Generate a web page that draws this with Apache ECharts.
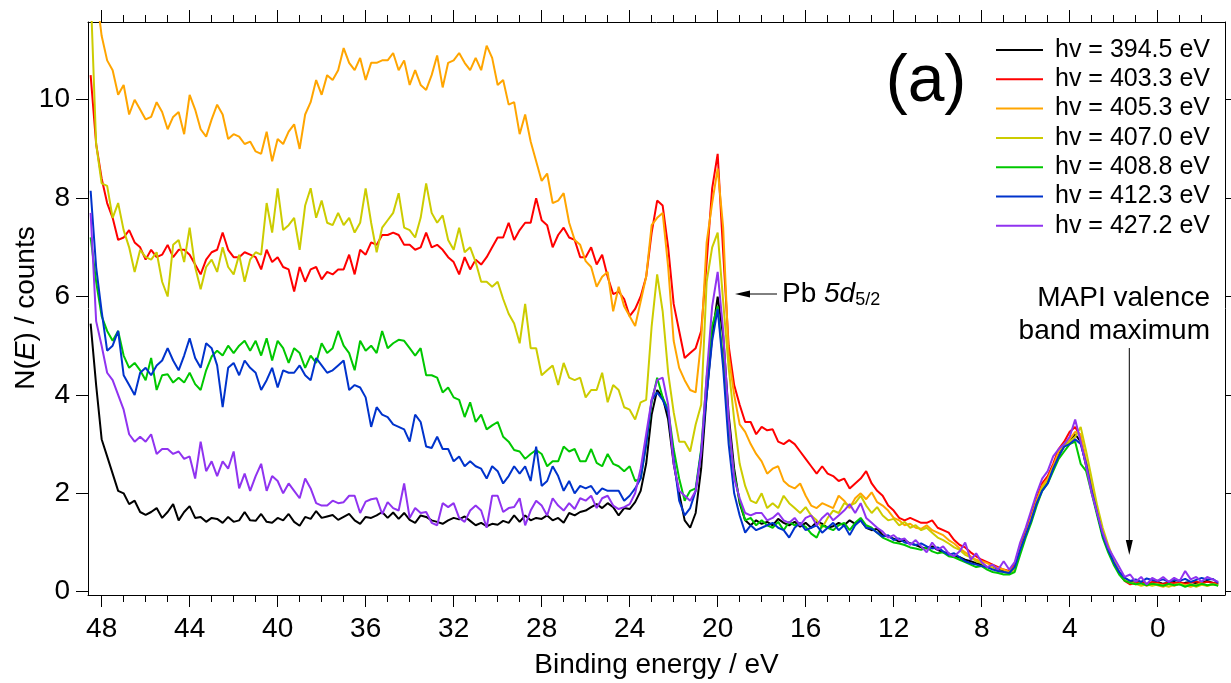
<!DOCTYPE html>
<html><head><meta charset="utf-8">
<script src="https://cdn.jsdelivr.net/npm/echarts@6/dist/echarts.min.js"></script>
<style>html,body{margin:0;padding:0;background:#fff}#c{width:1231px;height:683px}</style>
</head><body><div id="c"></div>
<script>
// Binding energy grid (eV)
const energies = [
48.5,48.25,48,47.75,47.5,47.25,47,46.75,46.5,46.25,46,45.75,45.5,45.25,45,44.75,44.5,44.25,44,43.75,
43.5,43.25,43,42.75,42.5,42.25,42,41.75,41.5,41.25,41,40.75,40.5,40.25,40,
39.75,39.5,39.25,39,38.75,38.5,38.25,38,37.75,37.5,37.25,37,36.75,36.5,36.25,36,35.75,35.5,35.25,35,
34.75,34.5,34.25,34,33.75,33.5,33.25,33,32.75,32.5,32.25,32,31.75,31.5,31.25,
31,30.75,30.5,30.25,30,29.75,29.5,29.25,29,28.75,28.5,28.25,28,27.75,27.5,27.25,27,26.75,26.5,26.25,
26,25.75,25.5,25.25,25,24.75,24.5,24.25,24,23.75,23.5,23.25,23,
22.75,22.5,22.25,22,21.75,21.5,21.25,21,20.75,20.5,20.25,20,19.75,19.5,19.25,19,18.75,18.5,18.25,18,
17.75,17.5,17.25,17,16.75,16.5,16.25,16,15.75,15.5,15.25,15,14.75,14.5,14.25,14,
13.75,13.5,13.25,13,12.75,12.5,12.25,12,11.75,11.5,11.25,11,10.75,10.5,10.25,10,9.75,9.5,9.25,9,
8.75,8.5,8.25,8,7.75,7.5,7.25,7,
6.75,6.5,6.25,6,5.75,5.5,5.25,5,4.75,4.5,4.25,4,3.75,3.5,3.25,3,2.75,2.5,2.25,2,
1.75,1.5,1.25,1,0.75,0.5,0.25,0,-0.25,-0.5,-0.75,-1,-1.25,-1.5,-1.75,-2,-2.25,-2.5,-2.75
];

const hv394 = [
5.45,4.2,3.1,2.75,2.4,2.05,2.0,1.78,1.85,1.62,1.56,1.62,1.7,1.5,1.62,1.78,1.45,1.62,1.74,1.5,
1.52,1.42,1.5,1.48,1.4,1.52,1.42,1.45,1.62,1.45,1.44,1.58,1.42,1.4,1.5,
1.45,1.58,1.42,1.34,1.52,1.48,1.64,1.5,1.53,1.56,1.46,1.52,1.58,1.45,1.38,1.52,1.5,1.55,1.62,1.5,
1.61,1.48,1.6,1.46,1.4,1.55,1.52,1.45,1.42,1.38,1.45,1.5,1.47,1.53,1.44,
1.35,1.4,1.33,1.38,1.36,1.44,1.4,1.55,1.42,1.55,1.45,1.5,1.48,1.55,1.45,1.5,1.4,1.6,1.55,1.62,
1.65,1.72,1.78,1.7,1.8,1.72,1.55,1.7,1.68,1.82,2.05,2.6,3.6,
4.1,3.95,3.5,2.6,2.0,1.45,1.3,1.6,2.5,4.0,5.2,6.0,5.2,3.6,2.5,1.8,1.45,1.35,1.45,1.38,
1.42,1.35,1.48,1.4,1.35,1.42,1.32,1.4,1.3,1.42,1.38,1.3,1.33,1.4,1.35,1.45,
1.38,1.45,1.3,1.25,1.28,1.15,1.12,1.08,1.02,1.05,0.98,0.95,0.9,0.88,0.92,0.85,0.8,0.78,0.72,0.7,
0.65,0.62,0.58,0.55,0.5,0.48,0.45,0.42,
0.38,0.5,0.9,1.2,1.5,1.85,2.1,2.25,2.5,2.8,2.95,3.05,3.2,3.05,2.55,2.05,1.6,1.15,0.85,0.6,
0.4,0.28,0.2,0.18,0.2,0.15,0.18,0.2,0.16,0.18,0.2,0.15,0.18,0.2,0.17,0.19,0.22,0.18,0.15
];

const hv403 = [
10.5,9.1,8.4,7.9,7.6,7.15,7.2,7.35,7.1,7.0,6.75,6.95,6.8,6.85,7.05,6.8,6.95,6.95,6.85,6.65,
6.45,6.75,6.9,6.95,7.3,6.95,6.8,6.8,6.9,6.85,6.8,6.55,6.95,6.7,6.8,
6.6,6.55,6.1,6.6,6.3,6.55,6.6,6.35,6.5,6.45,6.55,6.55,6.85,6.45,6.95,6.85,7.1,7.05,7.25,7.25,
7.3,7.25,7.05,7.05,6.95,7.0,7.3,7.0,7.05,6.95,6.8,6.7,6.45,6.8,6.55,
6.75,6.65,6.8,7.0,7.2,7.2,7.5,7.15,7.35,7.5,7.5,8.0,7.55,7.45,7.0,7.25,7.4,7.2,7.15,6.8,
6.8,7.0,6.65,6.85,6.4,6.05,6.1,5.95,5.6,5.75,6.0,6.4,7.3,
7.95,7.85,7.0,5.85,5.3,4.75,4.85,4.95,5.3,6.7,8.2,8.9,6.9,5.0,4.2,3.8,3.45,3.45,3.2,3.35,
3.28,3.3,3.05,3.0,3.08,3.0,2.85,2.7,2.55,2.4,2.55,2.4,2.35,2.25,2.3,2.1,
2.2,2.3,2.45,2.2,2.05,1.95,1.75,1.65,1.5,1.45,1.5,1.45,1.4,1.4,1.45,1.3,1.25,1.2,1.05,0.95,
0.9,0.8,0.72,0.65,0.6,0.55,0.5,0.45,
0.42,0.55,0.95,1.2,1.55,1.9,2.2,2.35,2.6,2.9,3.05,3.25,3.35,3.15,2.6,2.1,1.65,1.2,0.88,0.62,
0.38,0.22,0.15,0.17,0.2,0.16,0.2,0.18,0.15,0.2,0.17,0.2,0.16,0.18,0.21,0.17,0.2,0.18,0.16
];

const hv405 = [
13.0,12.2,11.3,10.8,10.6,10.1,10.3,9.7,10.0,9.8,9.6,9.65,9.95,9.75,9.4,9.65,9.75,9.3,10.1,9.8,
9.4,9.25,9.6,9.9,9.7,9.2,9.3,9.25,9.1,9.15,8.95,8.9,9.35,8.75,9.2,
9.1,9.35,9.5,9.0,9.7,9.95,10.4,10.1,10.5,10.4,10.6,11.05,10.75,10.6,10.85,10.4,10.75,10.75,10.8,10.8,
10.95,10.6,10.8,10.3,10.6,10.3,10.2,10.5,10.9,10.25,10.75,10.8,10.95,10.75,10.6,
10.85,10.6,11.1,10.85,10.3,10.4,9.9,9.95,9.3,9.7,9.15,8.75,8.35,8.5,7.9,7.95,8.1,7.5,7.15,7.05,
6.72,6.6,6.2,6.4,6.5,5.7,6.2,5.8,5.6,5.4,5.9,6.4,7.45,
7.6,7.7,6.6,5.1,4.55,4.3,4.1,4.05,5.1,7.1,7.9,8.6,7.4,4.8,4.0,3.4,3.25,3.0,2.8,2.65,
2.4,2.5,2.55,2.25,2.15,2.1,2.2,1.95,1.75,1.7,1.8,1.75,1.7,1.95,1.85,1.7,
1.9,2.0,1.88,2.02,1.82,1.75,1.65,1.5,1.45,1.35,1.38,1.3,1.28,1.35,1.25,1.2,1.15,1.05,0.98,0.88,
0.8,0.72,0.65,0.62,0.58,0.52,0.48,0.45,
0.4,0.5,0.88,1.15,1.5,1.85,2.15,2.3,2.55,2.85,3.0,3.1,3.25,3.2,2.65,2.15,1.65,1.2,0.88,0.62,
0.4,0.25,0.18,0.15,0.17,0.12,0.16,0.13,0.1,0.15,0.12,0.16,0.13,0.1,0.14,0.17,0.12,0.15,0.13
];

const hv407 = [
12.2,9.1,8.3,8.25,7.6,7.9,7.35,7.0,6.5,6.95,6.8,6.75,6.9,6.3,6.0,7.05,7.15,6.7,7.4,6.6,
6.15,6.6,6.75,6.5,7.0,6.6,6.45,6.85,6.3,6.75,6.9,6.85,7.9,7.3,8.2,
7.35,7.45,7.6,6.95,7.85,8.2,7.6,7.95,7.5,7.45,7.7,7.45,7.6,7.3,7.5,8.2,7.5,6.9,7.4,7.55,
7.7,8.1,7.4,7.35,7.2,7.6,8.3,7.7,7.5,7.65,7.15,6.95,7.4,6.9,7.0,
6.7,6.3,6.3,6.2,6.3,5.95,5.65,5.45,5.05,5.85,4.95,4.95,4.4,4.5,4.6,4.2,4.65,4.35,4.3,4.35,
3.95,4.1,4.1,4.45,3.85,4.2,4.1,3.75,3.7,3.5,3.85,3.9,5.4,
6.45,5.7,4.45,3.65,3.05,3.05,2.85,3.4,3.8,6.3,7.0,7.3,5.9,4.55,3.5,2.6,2.15,1.85,1.8,2.0,
1.7,1.8,1.7,1.95,1.8,1.7,1.6,1.72,1.55,1.45,1.3,1.5,1.65,1.6,1.8,1.75,
1.8,1.95,1.75,1.6,1.72,1.55,1.45,1.48,1.35,1.42,1.3,1.35,1.25,1.3,1.2,1.1,1.05,0.98,0.9,0.85,
0.75,0.7,0.62,0.58,0.5,0.48,0.42,0.4,
0.38,0.45,0.8,1.15,1.45,1.8,2.1,2.25,2.5,2.75,2.95,3.05,3.15,3.35,2.85,2.3,1.75,1.3,0.95,0.65,
0.4,0.25,0.18,0.16,0.12,0.15,0.12,0.15,0.13,0.1,0.14,0.16,0.12,0.15,0.1,0.14,0.12,0.15,0.13
];

const hv408 = [
7.2,6.3,5.6,5.3,5.1,5.3,4.8,4.55,4.65,4.5,4.3,4.75,4.1,4.4,4.42,4.25,4.35,4.25,4.45,4.22,
4.1,4.5,4.78,4.9,4.8,5.0,4.85,5.0,5.1,4.9,5.1,4.8,5.15,4.7,5.1,
4.95,4.65,4.95,4.85,4.55,4.8,4.65,5.05,4.85,4.95,5.3,5.0,4.85,4.5,5.1,4.9,5.0,4.85,5.3,4.95,
5.05,5.12,5.1,4.95,4.8,4.95,4.4,4.4,4.35,4.05,4.15,3.95,3.9,3.55,3.85,
3.45,3.6,3.3,3.38,3.45,3.15,3.05,2.88,2.85,2.7,2.8,2.88,2.8,2.55,2.65,2.65,2.95,2.85,2.9,2.65,
2.65,2.9,2.62,2.55,2.8,2.6,2.55,2.45,2.55,2.25,2.3,3.0,3.85,
4.35,3.95,3.7,2.9,2.3,1.85,2.05,2.1,2.9,4.35,5.4,5.8,4.7,3.3,2.4,1.85,1.45,1.5,1.35,1.45,
1.35,1.3,1.42,1.25,1.42,1.35,1.38,1.32,1.18,1.1,1.35,1.3,1.25,1.35,1.4,1.25,
1.4,1.5,1.35,1.3,1.2,1.1,1.05,1.0,0.98,0.95,0.9,0.88,0.85,0.9,0.82,0.78,0.8,0.72,0.7,0.65,
0.6,0.55,0.5,0.52,0.45,0.4,0.38,0.35,
0.35,0.4,0.75,1.1,1.4,1.75,2.05,2.2,2.45,2.7,2.85,3.0,3.05,2.6,2.45,2.0,1.55,1.1,0.8,0.55,
0.35,0.22,0.18,0.15,0.17,0.13,0.16,0.14,0.12,0.16,0.13,0.15,0.1,0.14,0.12,0.16,0.13,0.15,0.12
];

const hv412 = [
8.15,6.6,5.7,4.9,5.0,5.3,4.4,4.2,4.0,4.45,4.55,4.4,4.6,4.7,4.95,4.7,4.5,4.8,5.15,4.75,
4.55,5.05,4.95,4.6,3.75,4.55,4.65,4.4,4.7,4.55,4.45,4.1,4.3,4.55,4.15,
4.5,4.45,4.45,4.6,4.4,4.3,4.75,4.6,4.45,4.5,4.6,4.7,4.1,4.2,4.15,3.95,3.35,3.75,3.6,3.55,
3.4,3.35,3.3,3.05,3.6,3.45,2.95,2.92,3.15,2.9,2.9,2.65,2.75,2.55,2.65,
2.55,2.5,2.3,2.55,2.45,2.2,2.35,2.55,2.4,2.55,2.25,2.95,2.15,2.25,2.55,2.35,2.05,2.25,2.0,2.15,
2.1,2.15,1.98,2.1,2.05,2.05,2.05,1.85,1.95,2.1,2.3,3.0,3.9,
4.05,3.9,3.65,2.7,1.85,1.55,1.7,2.05,2.85,4.0,5.1,5.75,4.55,3.0,2.0,1.55,1.2,1.35,1.25,1.3,
1.35,1.4,1.3,1.25,1.1,1.3,1.4,1.25,1.3,1.35,1.2,1.3,1.4,1.25,1.35,1.15,
1.35,1.45,1.3,1.28,1.2,1.12,1.15,1.05,1.08,1.0,0.98,0.95,0.98,0.92,0.88,0.9,0.82,0.75,0.78,0.7,
0.62,0.58,0.55,0.52,0.5,0.45,0.42,0.4,
0.38,0.5,0.85,1.15,1.45,1.8,2.05,2.2,2.5,2.75,2.95,3.0,3.1,3.0,2.6,2.05,1.6,1.15,0.85,0.6,
0.4,0.28,0.22,0.25,0.2,0.27,0.24,0.22,0.25,0.2,0.24,0.22,0.26,0.2,0.24,0.28,0.25,0.26,0.18
];

const hv427 = [
7.7,5.5,5.0,4.45,4.3,4.0,3.7,3.2,3.05,3.15,3.05,3.2,2.8,2.9,2.9,2.8,2.85,2.7,2.75,2.3,
3.05,2.45,2.65,2.35,2.65,2.5,2.85,2.1,2.4,2.05,2.35,2.6,2.05,2.35,2.25,
2.0,2.2,2.05,1.9,2.3,2.1,1.8,1.75,1.75,1.85,1.8,1.82,1.95,1.95,1.6,1.83,1.88,1.9,1.58,1.82,
1.7,1.65,2.2,1.5,1.7,1.6,1.62,1.4,1.35,1.8,1.72,1.8,1.5,1.42,1.65,
1.75,1.65,1.3,1.95,1.95,1.62,1.7,1.72,1.9,1.35,1.65,1.85,1.75,1.55,1.9,1.75,1.65,1.8,1.68,1.9,
1.85,1.95,1.7,1.9,1.95,1.75,1.68,1.72,1.78,2.0,2.5,3.2,3.9,
4.3,4.35,3.8,2.6,2.05,1.95,1.85,2.05,2.8,4.4,5.8,6.5,5.3,3.5,2.3,1.9,1.6,1.55,1.6,1.6,
1.45,1.5,1.6,1.45,1.4,1.5,1.35,1.5,1.55,1.35,1.5,1.6,1.45,1.55,1.65,1.78,
1.6,1.8,1.5,1.4,1.3,1.22,1.1,1.15,1.05,1.08,0.95,1.05,0.92,0.8,1.0,0.85,0.92,0.78,0.72,0.82,
1.0,0.65,0.78,0.6,0.5,0.55,0.45,0.62,
0.45,0.6,1.0,1.3,1.65,2.0,2.3,2.45,2.75,2.9,3.0,3.15,3.5,3.05,2.55,2.0,1.6,1.2,0.9,0.7,
0.5,0.3,0.35,0.2,0.3,0.15,0.28,0.22,0.3,0.2,0.28,0.22,0.42,0.25,0.3,0.2,0.3,0.25,0.2
];

const seriesNames = ['hv = 394.5 eV','hv = 403.3 eV','hv = 405.3 eV','hv = 407.0 eV','hv = 408.8 eV','hv = 412.3 eV','hv = 427.2 eV'];
const seriesColors = ['#000000','#ff0000','#ffa500','#cccc00','#00c800','#0033cc','#9033f0'];
const seriesValues = [hv394, hv403, hv405, hv407, hv408, hv412, hv427];

const xMajorTicks = [48,44,40,36,32,28,24,20,16,12,8,4,0];
const xMinorTicks = [48,47,46,45,44,43,42,41,40,39,38,37,36,35,34,33,32,31,30,29,28,27,26,25,24,23,22,21,20,19,18,17,16,15,14,13,12,11,10,9,8,7,6,5,4,3,2,1,0,-1,-2];
const yTicks = [0,2,4,6,8,10];

const FONT = '"Liberation Sans", Arial, Helvetica, sans-serif';
const axisLineStyle = {color:'#000', width:1};

const chart = echarts.init(document.getElementById('c'), null, {renderer:'canvas'});

function xAx(pos, ticks, len, showLine, showLabel){
  return {
    type:'value', inverse:true, min:-3.06, max:48.62, position:pos,
    axisLine:{show:showLine, onZero:false, lineStyle:axisLineStyle},
    axisTick:{show:true, customValues:ticks, length:len, lineStyle:axisLineStyle},
    axisLabel:{show:showLabel, customValues:xMajorTicks, fontSize:28, color:'#000', fontFamily:FONT, margin:20},
    splitLine:{show:false}
  };
}
function yAx(pos, showLabel){
  return {
    type:'value', min:-0.067, max:11.58, position:pos,
    axisLine:{show:true, onZero:false, lineStyle:axisLineStyle},
    axisTick:{show:true, customValues:yTicks, length:12, lineStyle:axisLineStyle},
    axisLabel:{show:showLabel, customValues:yTicks, fontSize:28, color:'#000', fontFamily:FONT, margin:18},
    splitLine:{show:false}
  };
}

const option = {
  animation:false,
  backgroundColor:'#fff',
  grid:{left:88, right:6, top:22, bottom:88, containLabel:false, outerBoundsMode:'none'},
  xAxis:[
    xAx('bottom', xMajorTicks, 12, true, true),
    xAx('bottom', xMinorTicks, 7, false, false),
    xAx('top', xMajorTicks, 12, true, false),
    xAx('top', xMinorTicks, 7, false, false)
  ],
  yAxis:[ yAx('left', true), yAx('right', false) ],
  legend:{
    show:true, orient:'vertical', left:996, top:35.35, padding:0, itemGap:0,
    itemWidth:47, itemHeight:2, icon:'rect', selectedMode:false,
    textStyle:{fontSize:25, fontFamily:FONT, color:'#000', lineHeight:29.3, padding:[0,0,0,7]},
    data:seriesNames
  },
  series: seriesValues.map((vals,k)=>({
    type:'line', name:seriesNames[k], xAxisIndex:0, yAxisIndex:0,
    data: energies.map((e,i)=>[e, vals[i]]),
    showSymbol:false, symbol:'none', clip:true, silent:true,
    lineStyle:{width:2, color:seriesColors[k]}, itemStyle:{color:seriesColors[k]},
    z:2+k
  })),
  graphic:[
    {type:'text', x:656.5, y:665, silent:true,
     style:{text:'Binding energy / eV', fontSize:28, fontFamily:FONT, fill:'#000', align:'center', verticalAlign:'middle', textAlign:'center', textVerticalAlign:'middle'}},
    {type:'text', x:26, y:308, rotation:Math.PI/2, silent:true,
     style:{text:'{n|N(}{i|E}{n|) / counts}', fill:'#000', align:'center', verticalAlign:'middle', textAlign:'center', textVerticalAlign:'middle',
       rich:{n:{fontSize:28, fontFamily:FONT, fill:'#000'}, i:{fontSize:28, fontFamily:FONT, fontStyle:'italic', fill:'#000'}}}},
    {type:'text', x:926, y:83, silent:true,
     style:{text:'(a)', fontSize:66, fontFamily:FONT, fill:'#000', align:'center', verticalAlign:'middle', textAlign:'center', textVerticalAlign:'middle'}},
    {type:'text', x:782, y:294, silent:true,
     style:{text:'{n|Pb }{i|5d}{s|5/2}', fill:'#000', align:'left', verticalAlign:'middle', textAlign:'left', textVerticalAlign:'middle',
       rich:{n:{fontSize:28, fontFamily:FONT, fill:'#000', lineHeight:30}, i:{fontSize:28, fontFamily:FONT, fontStyle:'italic', fill:'#000', lineHeight:30},
             s:{fontSize:18, fontFamily:FONT, fill:'#000', lineHeight:12, verticalAlign:'bottom'}}}},
    {type:'line', silent:true, shape:{x1:777, y1:294, x2:748, y2:294}, style:{stroke:'#000', lineWidth:1}},
    {type:'polygon', silent:true, shape:{points:[[735,294],[750,290.5],[750,297.5]]}, style:{fill:'#000'}},
    {type:'text', x:1210, y:298, silent:true,
     style:{text:'MAPI valence', fontSize:28, fontFamily:FONT, fill:'#000', align:'right', verticalAlign:'middle', textAlign:'right', textVerticalAlign:'middle'}},
    {type:'text', x:1210, y:331, silent:true,
     style:{text:'band maximum', fontSize:28, fontFamily:FONT, fill:'#000', align:'right', verticalAlign:'middle', textAlign:'right', textVerticalAlign:'middle'}},
    {type:'line', silent:true, shape:{x1:1129.3, y1:348, x2:1129.3, y2:542}, style:{stroke:'#000', lineWidth:1}},
    {type:'polygon', silent:true, shape:{points:[[1129.3,555],[1125.8,540],[1132.8,540]]}, style:{fill:'#000'}}
  ]
};
chart.setOption(option);
</script>
</body></html>
